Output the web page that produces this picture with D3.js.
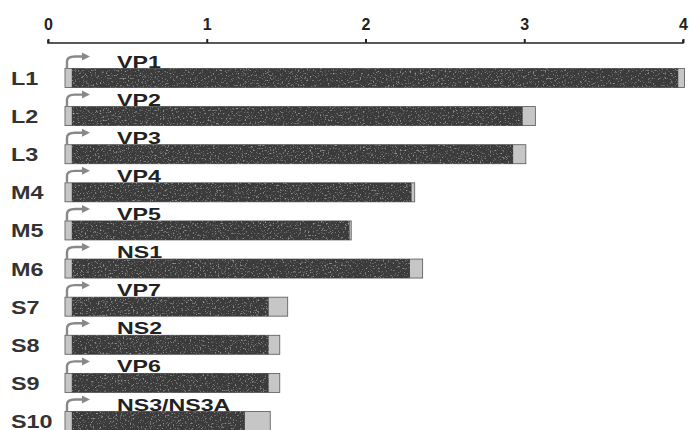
<!DOCTYPE html>
<html><head><meta charset="utf-8">
<script src="https://cdn.jsdelivr.net/npm/d3@7"></script>
<style>body{margin:0;background:#fff}svg{display:block}</style>
</head><body>
<script>
const segments = ["L1","L2","L3","M4","M5","M6","S7","S8","S9","S10"];
const genes = ["VP1","VP2","VP3","VP4","VP5","NS1","VP7","NS2","VP6","NS3/NS3A"];
const segStart = [0.107,0.107,0.107,0.107,0.107,0.107,0.107,0.107,0.107,0.107];
const orfStart = [0.15,0.15,0.15,0.15,0.15,0.15,0.15,0.15,0.15,0.15];
const orfEnd = [3.97,2.99,2.93,2.29,1.90,2.28,1.39,1.39,1.39,1.24];
const segEnd = [4.01,3.07,3.01,2.31,1.91,2.36,1.51,1.46,1.46,1.40];
const tickValues = [0,1,2,3,4];

const W=693,H=430;
const FONT="Liberation Sans, Arial, sans-serif";
const svg=d3.select("body").append("svg").attr("width",W).attr("height",H);
const defs=svg.append("defs");
const f=defs.append("filter").attr("id","speck").attr("x",0).attr("y",0).attr("width",1).attr("height",1);
f.append("feTurbulence").attr("type","fractalNoise").attr("baseFrequency",0.6).attr("numOctaves",2).attr("seed",5).attr("result","n");
f.append("feColorMatrix").attr("in","n").attr("type","matrix")
 .attr("values","0 0 0 0 0.42  0 0 0 0 0.42  0 0 0 0 0.42  0 0 0 3 -1.75").attr("result","m");
f.append("feComposite").attr("in","m").attr("in2","SourceGraphic").attr("operator","in").attr("result","c");
f.append("feMerge").selectAll("feMergeNode").data(["SourceGraphic","c"]).join("feMergeNode").attr("in",d=>d);

const x=d3.scaleLinear().domain([0,4]).range([48,683]);
const y=d3.scalePoint().domain(segments).range([78,421]);
const bh=19;

const ax=svg.append("g").attr("transform","translate(0,43)")
 .call(d3.axisTop(x).tickValues(tickValues).tickFormat(d3.format("d")).tickSize(4).tickPadding(9));
ax.select(".domain").attr("stroke","#222").attr("stroke-width",1.6).attr("d","M48,-3V0H"+x(4.0)+"V-3");
ax.selectAll(".tick line").attr("stroke","#222").attr("stroke-width",2);
ax.selectAll(".tick text").attr("font-family",FONT).attr("font-weight","bold")
 .attr("font-size",16).attr("fill","#222");

const rows=segments.map((s,i)=>({s,g:genes[i],a:segStart[i],b:orfStart[i],c:orfEnd[i],d:segEnd[i]}));
const row=svg.selectAll(".row").data(rows).join("g").attr("class","row");

row.append("text").attr("transform",d=>`translate(11,${y(d.s)+7}) scale(1.3,1)`).text(d=>d.s)
 .attr("font-family",FONT).attr("font-weight","bold").attr("font-size",18).attr("fill","#333");

// UTR (light full bar)
row.append("rect").attr("x",d=>x(d.a)).attr("y",d=>y(d.s)-bh/2).attr("width",d=>x(d.d)-x(d.a)).attr("height",bh)
 .attr("fill","#c6c6c6").attr("stroke","#555").attr("stroke-width",0.8);
// ORF dark
row.append("rect").attr("x",d=>x(d.b)).attr("y",d=>y(d.s)-bh/2).attr("width",d=>x(d.c)-x(d.b)).attr("height",bh)
 .attr("fill","#3a3a3a").attr("filter","url(#speck)");

// arrows
row.append("path").attr("d",d=>{const x0=x(d.a)+2, yt=y(d.s)-bh/2; return `M${x0},${yt}V${yt-7}Q${x0},${yt-12} ${x0+8},${yt-12}H${x0+16}`;})
 .attr("fill","none").attr("stroke","#888").attr("stroke-width",2.4);
row.append("path").attr("d",d=>{const x0=x(d.a)+2, yt=y(d.s)-bh/2-12; return `M${x0+15},${yt-4}L${x0+23},${yt}L${x0+15},${yt+4}Z`;})
 .attr("fill","#888");

row.append("text").attr("transform",d=>`translate(117,${y(d.s)-bh/2-1}) scale(1.45,1)`).text(d=>d.g)
 .attr("font-family",FONT).attr("font-weight","bold").attr("font-size",16).attr("fill","#222");
</script>
</body></html>
